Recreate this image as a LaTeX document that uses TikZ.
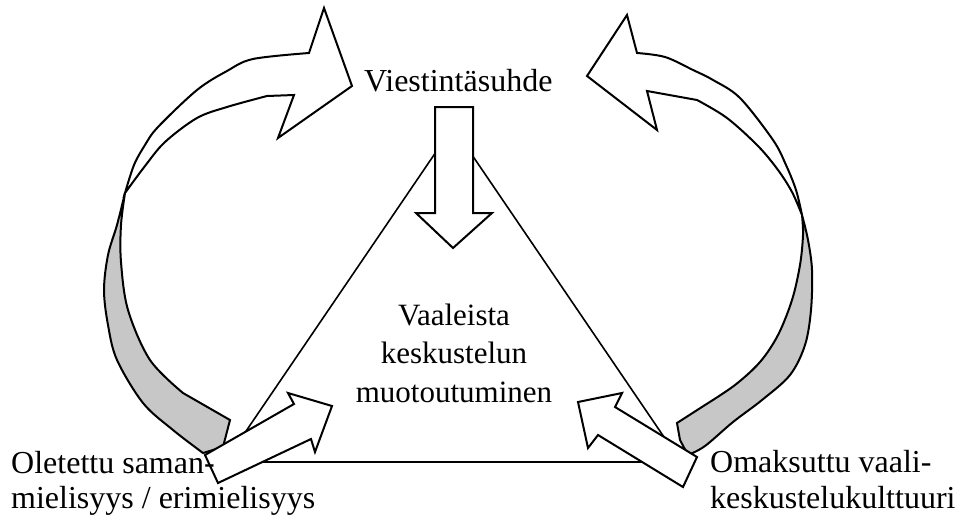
\documentclass[tikz,border=0pt]{standalone}
\usepackage{fontspec}
\setmainfont{Liberation Serif}
\begin{document}
\begin{tikzpicture}[x=1pt,y=-1pt,
  shape outline/.style={draw=black, line width=2pt, line join=miter, fill=white},
  back band/.style={draw=black, line width=2pt, fill=black!22},
  tri line/.style={draw=black, line width=1.6pt},
  lbl/.style={inner sep=0pt, font=\fontsize{32}{36}\selectfont},
  clbl/.style={inner sep=0pt, font=\fontsize{31}{36}\selectfont}]
\useasboundingbox (0,0) rectangle (965,519);

% triangle
\coordinate (apex) at (453,127);
\coordinate (bl) at (225,462);
\coordinate (br) at (681,462);
\draw[tri line] (apex) -- (bl) -- (br) -- cycle;

% down arrow
\draw[shape outline] (435,107) -- (473,107) -- (473,213) -- (492,213) -- (453,248) -- (416,213) -- (435,213) -- cycle;

% left big curved arrow: back band
\draw[back band] plot[smooth, tension=0.55] coordinates {(125,193) (117,225) (108,255) (104,290) (108,325) (117,360) (143,403) (173,430) (203,453)}
  -- (223,447) -- (230,420)
  -- plot[smooth, tension=0.55] coordinates {(183,393) (150,360) (128,310) (121,262) (121,225) (125,193)} -- cycle;
% left big curved arrow: front ribbon
\draw[shape outline] plot[smooth, tension=0.55] coordinates {(125,193) (134,165) (145,145) (158,127) (197,90) (227,71) (253,59) (309,53)}
  -- (324,8) -- (352,86) -- (278,138) -- (294,95)
  -- plot[smooth, tension=0.55] coordinates {(267,96) (227,107) (197,118) (165,142) (145,166) (125,193)} -- cycle;

% right big curved arrow: back band
\draw[back band] plot[smooth, tension=0.55] coordinates {(802,215) (808,240) (812,270) (811,310) (805,345) (790,375) (762,400) (733,422) (705,446) (688,455)}
  -- (680,440) -- (677,423)
  -- plot[smooth, tension=0.55] coordinates {(705,405) (735,385) (760,362) (778,335) (792,300) (800,265) (803,235) (802,215)} -- cycle;
% right big curved arrow: front ribbon
\draw[shape outline] plot[smooth, tension=0.55] coordinates {(802,215) (796,190) (786,165) (773,140) (740,98) (713,80) (693,70) (665,57) (637,53)}
  -- (627,15) -- (587,76) -- (657,130) -- (647,91)
  -- plot[smooth, tension=0.55] coordinates {(697,100) (727,118) (758,146) (778,170) (792,192) (802,215)} -- cycle;

% small left arrow
\draw[shape outline] (205,455) -- (294,404) -- (288,393) -- (332,406) -- (315,452) -- (311,439) -- (218,483) -- cycle;
% small right arrow
\draw[shape outline] (697,457) -- (615,407) -- (622,393) -- (578,402) -- (588,448) -- (598,435) -- (683,487) -- cycle;

% texts
\node[lbl, anchor=base west] (top) at (364,91) {Viestintäsuhde};
\node[clbl, anchor=base] (c1) at (454,325) {Vaaleista};
\node[clbl, anchor=base] (c2) at (454,363) {keskustelun};
\node[clbl, anchor=base] (c3) at (454,402) {muotoutuminen};
\node[lbl, anchor=base west] (l1) at (11,473) {Oletettu saman-};
\node[lbl, anchor=base west] (l2) at (11,508) {mielisyys / erimielisyys};
\node[lbl, anchor=base west] (r1) at (710,472) {Omaksuttu vaali-};
\node[lbl, anchor=base west] (r2) at (710,508) {keskustelukulttuuri};
\end{tikzpicture}
\end{document}
